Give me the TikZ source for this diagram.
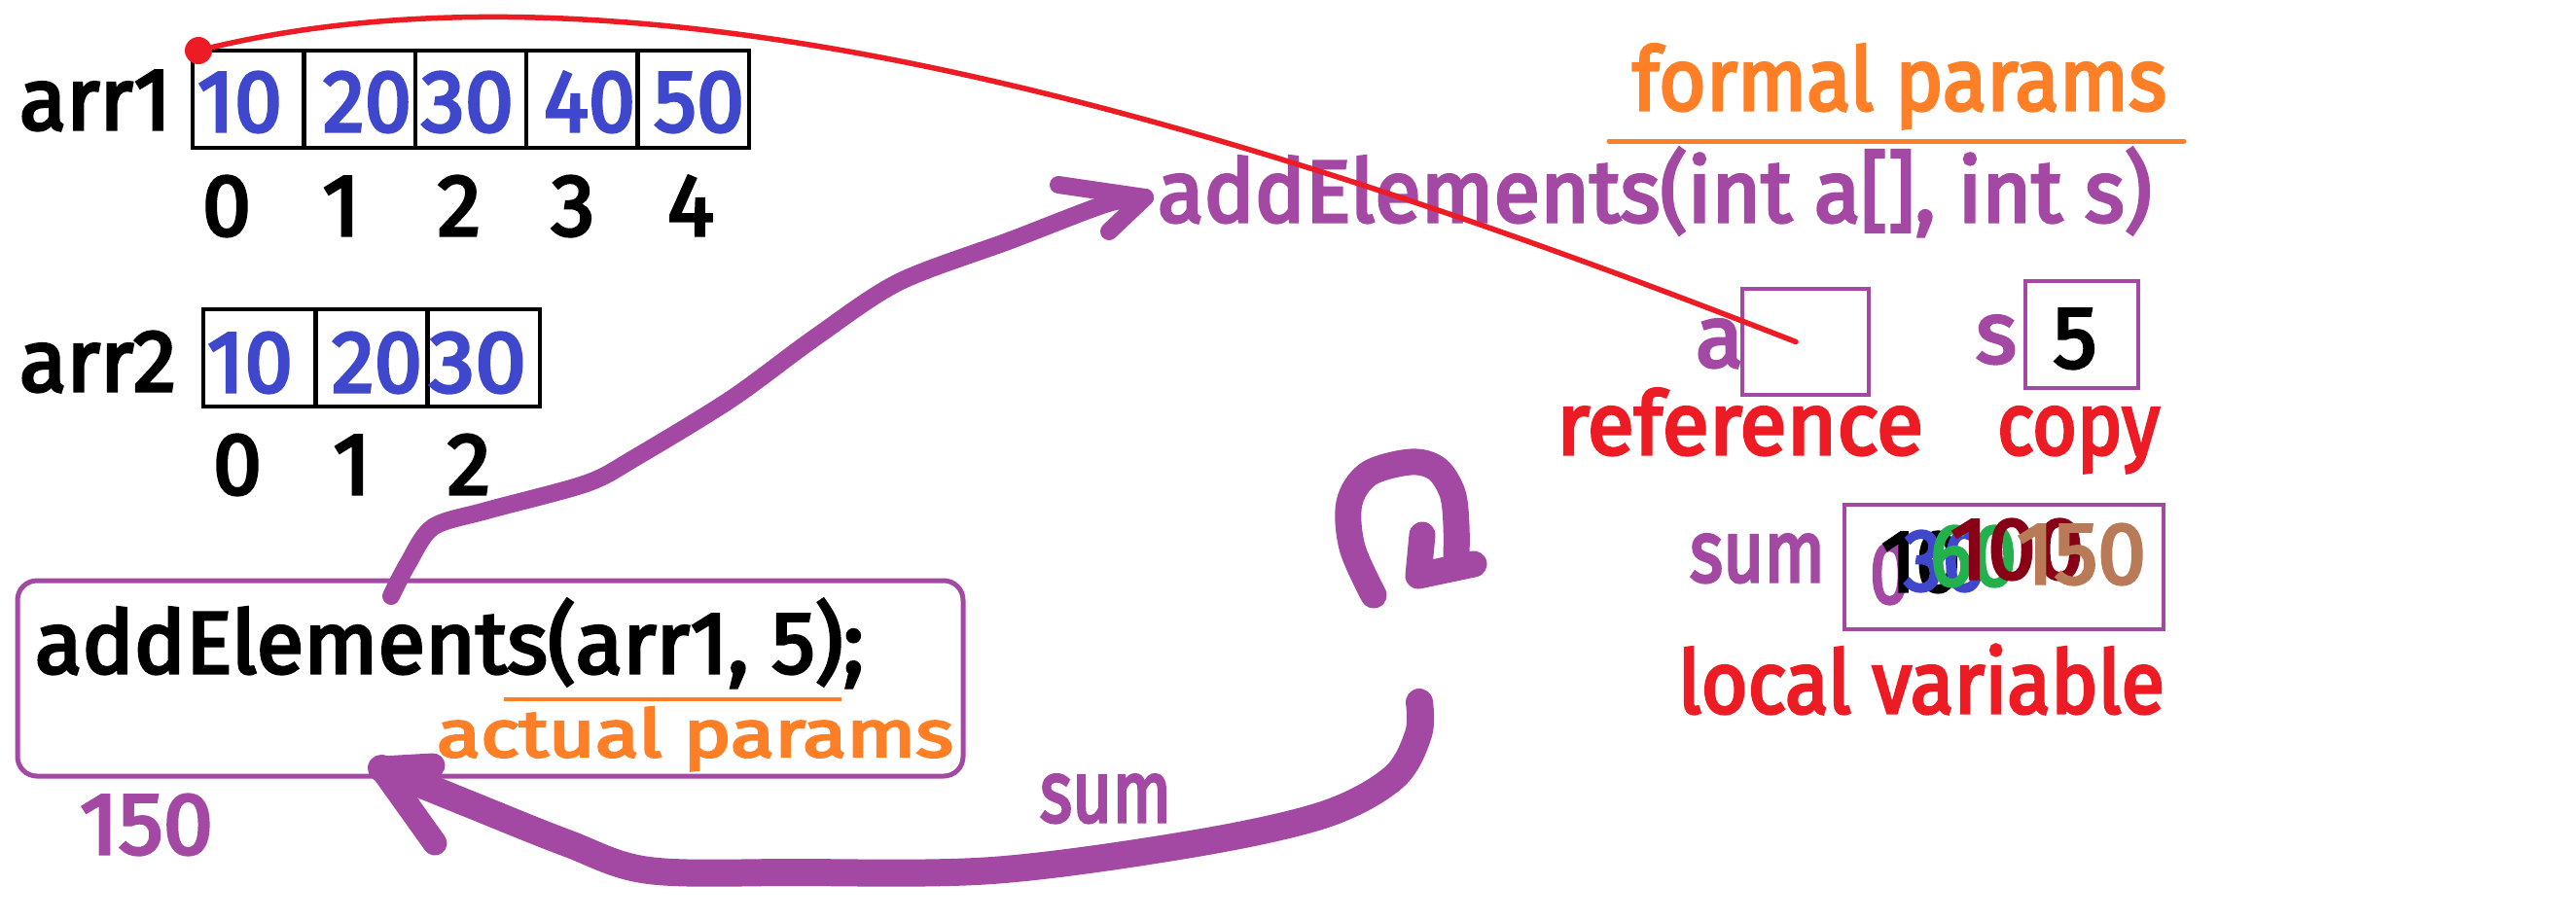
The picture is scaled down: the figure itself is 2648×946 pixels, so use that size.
\documentclass[tikz,border=0pt]{standalone}
\usepackage{fontspec}
\setmainfont{Fira Sans}[FakeBold=3.5]
\usepackage{graphicx}
\definecolor{ppurple}{HTML}{A349A4}
\definecolor{pblue}{HTML}{3F48CC}
\definecolor{pred}{HTML}{ED1C24}
\definecolor{porange}{HTML}{FF7F27}
\definecolor{pgreen}{HTML}{22B14C}
\definecolor{pdarkred}{HTML}{880015}
\definecolor{pbrown}{HTML}{B97A57}
\newcommand\fitw[2]{\resizebox{#1pt}{\height}{#2}}
\tikzset{
  txt/.style={inner sep=0pt, outer sep=0pt, font=\fontsize{90}{90}\selectfont},
  smalltxt/.style={inner sep=0pt, outer sep=0pt, font=\fontsize{68}{68}\selectfont},
  cell/.style={draw=black, line width=4.5pt, minimum height=100pt, inner sep=0pt},
  pbox/.style={draw=ppurple, line width=4.5pt, inner sep=0pt},
  parrow/.style={draw=ppurple, line cap=round, line join=round},
}
\begin{document}
\begin{tikzpicture}[x=1pt,y=-1pt]
\useasboundingbox (0,0) rectangle (2648,946);
\fill[white] (0,0) rectangle (2648,946);
% ---- arr1
\node[txt, anchor=base west] (arrA) at (20,133) {\fitw{156}{arr1}};
\foreach \i/\cx in {0/255.2,1/369.6,2/484,3/598.4,4/712.8}
  \node[cell, minimum width=114.4pt] (p\i) at (\cx,102) {};
\node[txt,text=pblue,anchor=base] (v0) at (246.5,135) {\fitw{87}{10}};
\node[txt,text=pblue,anchor=base] (v1) at (377.5,135) {\fitw{91}{20}};
\node[txt,text=pblue,anchor=base] (v2) at (480.5,135) {\fitw{95}{30}};
\node[txt,text=pblue,anchor=base] (v3) at (606,135) {\fitw{94}{40}};
\node[txt,text=pblue,anchor=base] (v4) at (718.5,135) {\fitw{93}{50}};
\node[txt,anchor=base] (i0) at (233,242) {0};
\node[txt,anchor=base] (i1) at (351,242) {1};
\node[txt,anchor=base] (i2) at (472,242) {2};
\node[txt,anchor=base] (i3) at (589,242) {3};
\node[txt,anchor=base] (i4) at (710,242) {4};
% ---- arr2
\node[txt, anchor=base west] (arrB) at (20,402) {\fitw{161}{arr2}};
\foreach \i/\cx in {0/266.7,1/382,2/497.3}
  \node[cell, minimum width=115.3pt] (q\i) at (\cx,368) {};
\node[txt,text=pblue,anchor=base] (w0) at (257,403) {\fitw{88}{10}};
\node[txt,text=pblue,anchor=base] (w1) at (387.5,403) {\fitw{93}{20}};
\node[txt,text=pblue,anchor=base] (w2) at (491,403) {\fitw{100}{30}};
\node[txt,anchor=base] (j0) at (244,508) {0};
\node[txt,anchor=base] (j1) at (362,508) {1};
\node[txt,anchor=base] (j2) at (482,508) {2};
% ---- formal params side
\node[txt,text=porange,anchor=base west] (formal) at (1678,113) {\fitw{549}{formal params}};
\draw[porange, line width=5pt, line cap=round] (1654,145) -- (2245,145);
\node[txt,text=ppurple,anchor=base west] (sig) at (1190,228) {\fitw{1022}{addElements(int a[], int s)}};
\node[pbox, minimum width=130pt, minimum height=109pt] (abox) at (1856,351.5) {};
\node[txt,text=ppurple,anchor=base west] (alab) at (1743,377) {a};
\node[pbox, minimum width=116pt, minimum height=110pt] (sbox) at (2140,344) {};
\node[txt,text=ppurple,anchor=base west] (slab) at (2031,373) {s};
\node[txt,anchor=base] (sval) at (2133,378) {5};
\node[txt,text=pred,anchor=base west] (refl) at (1600,467) {\fitw{377}{reference}};
\node[txt,text=pred,anchor=base west] (copyl) at (2053,467) {\fitw{167}{copy}};
\node[pbox, minimum width=328pt, minimum height=128pt] (sumbox) at (2060,583) {};
\node[txt,text=ppurple,anchor=base west] (sumlab) at (1737,598) {\fitw{139}{sum}};
\node[txt,text=ppurple,anchor=base west] (s0) at (1922,620) {\fitw{41}{0}};
\node[txt,text=black,anchor=base west] (s1) at (1934,608) {\fitw{81}{10}};
\node[txt,text=pblue,anchor=base west] (s2) at (1957,607) {\fitw{85}{30}};
\node[txt,text=pgreen,anchor=base west] (s3) at (1984,602) {\fitw{89}{60}};
\node[txt,text=pdarkred,anchor=base west] (s4) at (2005,595) {\fitw{137}{100}};
\node[txt,text=pbrown,anchor=base west] (s5) at (2073,600) {\fitw{133}{150}};
\node[txt,text=pred,anchor=base west] (local) at (1725,733) {\fitw{500}{local variable}};
% ---- call box
\node[draw=ppurple, line width=5pt, rounded corners=20pt, minimum width=972pt, minimum height=201pt, inner sep=0pt] (call) at (504,697.5) {};
\node[txt,anchor=base west] (calltxt) at (36,692) {\fitw{852}{addElements(arr1, 5);}};
\draw[porange, line width=4pt] (518,719) -- (865,719);
\node[smalltxt,text=porange,anchor=base west] (actual) at (449,778) {\fitw{531}{actual params}};
\node[txt,text=ppurple,anchor=base west] (ret) at (82,878) {\fitw{137}{150}};
\node[txt,text=ppurple,anchor=base west] (sumarrow) at (1069,845) {\fitw{135}{sum}};
% ---- red reference line
\node[circle, fill=pred, minimum size=28pt, inner sep=0pt] (dot) at (204,52) {};
\draw[pred, line width=5.5pt, line cap=round] (dot.center) .. controls (650,-60) and (1245,116) .. ([xshift=-10pt]abox.center);
% ---- purple arrows
\coordinate (upstart) at (402,613);
\coordinate (uptip) at (1177,203);
\draw[parrow, line width=18pt] plot[smooth, tension=0.5] coordinates {(upstart) (419,580) (445,542) (500,525) (603,497) (654,470) (752,410) (838,347) (924,290) (1039,247) (1136,210) (uptip)};
\draw[parrow, line width=18pt] (1088,190) -- (uptip) -- (1140,238);
\coordinate (downstart) at (1459,722);
\coordinate (downtip) at (392,790);
\draw[parrow, line width=28pt] plot[smooth, tension=0.55] coordinates {(downstart) (1458,755) (1432,800) (1360,838) (1224,868) (1020,895) (816,897) (667,895) (583,867) (483,827) (downtip)};
\draw[parrow, line width=25pt] (445,787) -- (downtip) -- (447,867);
% ---- loop symbol
\draw[parrow, line width=27pt] plot[smooth, tension=0.55] coordinates {(1412,612) (1390,563) (1387,517) (1407,487) (1450,475) (1477,482) (1493,507) (1497,540) (1497,577)};
\draw[parrow, line width=27pt] (1462,550) -- (1458,592) -- (1515,580);
\end{tikzpicture}
\end{document}
